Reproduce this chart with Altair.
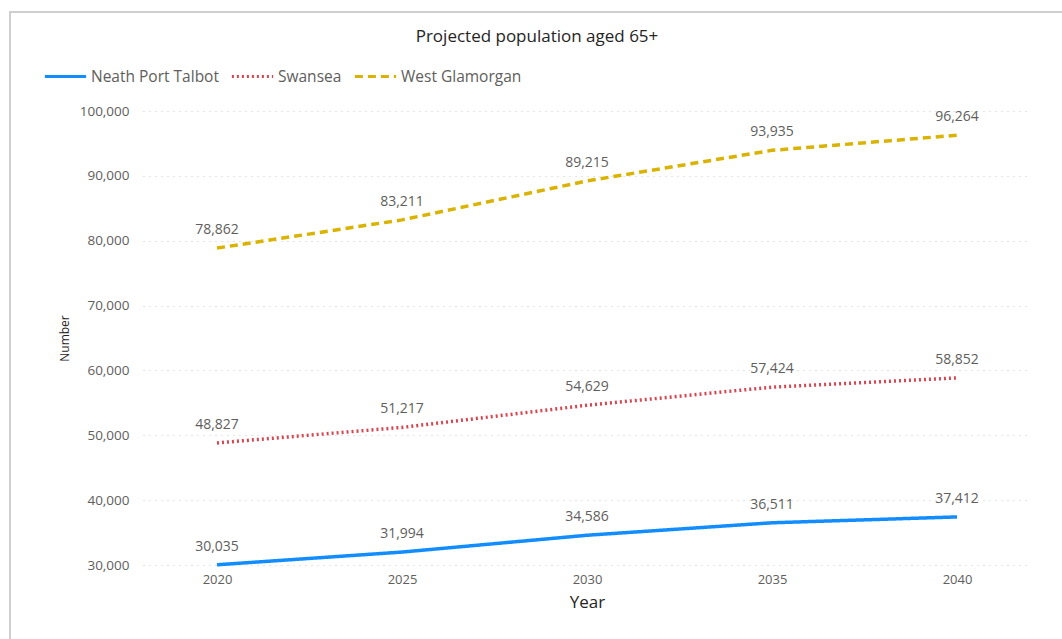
import altair as alt
import pandas as pd

years = [2020, 2025, 2030, 2035, 2040]
series_names = ["Neath Port Talbot", "Swansea", "West Glamorgan"]
npt = [30035, 31994, 34586, 36511, 37412]
swansea = [48827, 51217, 54629, 57424, 58852]
wg = [78862, 83211, 89215, 93935, 96264]
colors = ["#118DFF", "#D64550", "#D9B300"]
dashes = [[1, 0], [2, 3], [8, 5]]
title_text = ["Projected population aged 65+"]

rows = []
for name, vals in zip(series_names, [npt, swansea, wg]):
    for y, v in zip(years, vals):
        rows.append({"Year": y, "Value": v, "Series": name})
df = pd.DataFrame(rows)

font = "Open Sans"

x = alt.X("Year:Q", scale=alt.Scale(domain=[2018, 2042], nice=False, zero=False),
          axis=alt.Axis(values=years, format="d", title="Year", grid=False, ticks=False,
                        domain=False, labelPadding=8, labelFontSize=13, labelColor="#605E5C",
                        titleFontSize=17, titleColor="#252423", titleFontWeight="normal",
                        titlePadding=8, labelFont=font, titleFont=font))
y = alt.Y("Value:Q", scale=alt.Scale(domain=[30000, 100000], nice=False, zero=False),
          axis=alt.Axis(values=list(range(30000, 100001, 10000)), format=",d", title="Number",
                        ticks=False, domain=False, labelPadding=14, labelFontSize=13.5,
                        labelColor="#605E5C", gridColor="#C8C8C8", gridDash=[1, 5],
                        gridWidth=1, titleFontSize=12, titleColor="#252423",
                        titleFontWeight="normal", titlePadding=8, labelFont=font, titleFont=font))

color = alt.Color("Series:N", scale=alt.Scale(domain=series_names, range=colors),
                  legend=alt.Legend(orient="none", direction="horizontal", legendX=-100, legendY=-57,
                                    title=None, symbolType="stroke", symbolStrokeWidth=3,
                                    symbolSize=1700, labelFontSize=15.5, labelColor="#605E5C",
                                    labelFont=font, columnPadding=6, labelOffset=3))
dash = alt.StrokeDash("Series:N", scale=alt.Scale(domain=series_names, range=dashes), legend=None)

frame = alt.Chart(pd.DataFrame({"k": [0]})).mark_rect(
    fill=None, stroke="#CFCFCF", strokeWidth=2).encode(
    x=alt.value(-133), x2=alt.value(960), y=alt.value(-99), y2=alt.value(560))

title = alt.Chart(pd.DataFrame({"t": title_text})).mark_text(
    fontSize=17, font=font, color="#252423", baseline="middle", align="center").encode(
    text="t:N", x=alt.value(394), y=alt.value(-74))

lines = alt.Chart(df).mark_line(strokeWidth=3.5).encode(
    x=x, y=y, color=color, strokeDash=dash)

labels = alt.Chart(df).mark_text(dy=-18, fontSize=14, color="#605E5C", font=font).encode(
    x="Year:Q", y="Value:Q", text=alt.Text("Value:Q", format=","))

chart = alt.layer(frame, title, lines, labels).properties(
    width=888, height=454,
    autosize=alt.AutoSizeParams(type="none"),
    padding={"left": 143, "top": 111, "right": 31, "bottom": 74},
    background="white",
).configure_view(stroke=None)

chart.save("out.html", embed_options={"renderer": "svg", "actions": False})
